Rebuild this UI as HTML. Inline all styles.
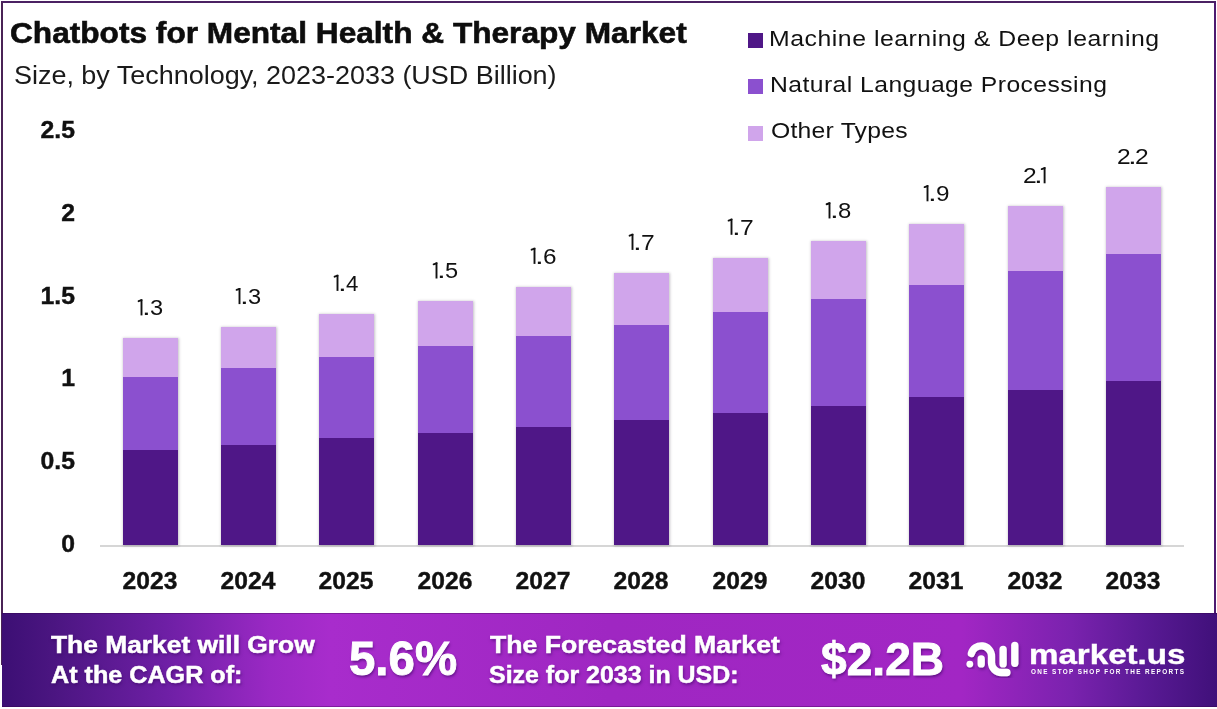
<!DOCTYPE html>
<html><head><meta charset="utf-8"><style>
html,body{margin:0;padding:0;}
body{width:1217px;height:709px;position:relative;overflow:hidden;background:#fff;font-family:'Liberation Sans', sans-serif;}
.t{position:absolute;line-height:0;white-space:nowrap;transform-origin:0 0;}
.c{position:absolute;line-height:0;white-space:nowrap;width:80px;text-align:center;transform-origin:50% 0;}
.r{position:absolute;line-height:0;white-space:nowrap;text-align:right;transform-origin:100% 0;}
.bar{position:absolute;}
.sb{position:absolute;box-shadow:0.5px 0 2.5px 0.5px rgba(60,50,70,0.3);}
#frame{position:absolute;left:1px;top:1px;width:1211px;height:662px;border:2px solid #4b2163;border-bottom:none;border-left-color:#4a2356;border-right-color:#4e1a70;}
#axis{position:absolute;left:100px;top:545px;width:1084px;height:1.6px;background:#d6d6d6;}
#banner{position:absolute;left:2px;top:613px;width:1215px;height:94px;box-sizing:border-box;border-top:1px solid rgba(50,0,70,0.35);border-bottom:1px solid rgba(50,0,70,0.35);
background:linear-gradient(90deg,#3c0f74 0%,#4a1580 4%,#6e1fa5 13.5%,#9a29c4 22%,#a82ccc 27%,#9f27c2 50%,#a226c4 79%,#7a22ae 88%,#5a1a95 94%,#40107a 100%);}
</style></head><body>
<div id="frame"></div>
<div id="axis"></div>
<div class="bar" style="left:748px;top:33px;width:15px;height:15px;background:#4f1787"></div>
<div class="bar" style="left:748px;top:79px;width:15px;height:15px;background:#8b50cf"></div>
<div class="bar" style="left:748px;top:126px;width:15px;height:15px;background:#d0a5eb"></div>
<div class="sb" style="left:123px;top:338px;width:55px;height:207px;"></div><div class="bar" style="left:123px;top:338px;width:55px;height:39px;background:#d0a5eb"></div><div class="bar" style="left:123px;top:377px;width:55px;height:73px;background:#8b50cf"></div><div class="bar" style="left:123px;top:450px;width:55px;height:95px;background:#4f1787"></div><div class="sb" style="left:221px;top:327px;width:55px;height:218px;"></div><div class="bar" style="left:221px;top:327px;width:55px;height:41px;background:#d0a5eb"></div><div class="bar" style="left:221px;top:368px;width:55px;height:77px;background:#8b50cf"></div><div class="bar" style="left:221px;top:445px;width:55px;height:100px;background:#4f1787"></div><div class="sb" style="left:319px;top:314px;width:55px;height:231px;"></div><div class="bar" style="left:319px;top:314px;width:55px;height:43px;background:#d0a5eb"></div><div class="bar" style="left:319px;top:357px;width:55px;height:81px;background:#8b50cf"></div><div class="bar" style="left:319px;top:438px;width:55px;height:107px;background:#4f1787"></div><div class="sb" style="left:418px;top:301px;width:55px;height:244px;"></div><div class="bar" style="left:418px;top:301px;width:55px;height:45px;background:#d0a5eb"></div><div class="bar" style="left:418px;top:346px;width:55px;height:87px;background:#8b50cf"></div><div class="bar" style="left:418px;top:433px;width:55px;height:112px;background:#4f1787"></div><div class="sb" style="left:516px;top:287px;width:55px;height:258px;"></div><div class="bar" style="left:516px;top:287px;width:55px;height:49px;background:#d0a5eb"></div><div class="bar" style="left:516px;top:336px;width:55px;height:91px;background:#8b50cf"></div><div class="bar" style="left:516px;top:427px;width:55px;height:118px;background:#4f1787"></div><div class="sb" style="left:614px;top:273px;width:55px;height:272px;"></div><div class="bar" style="left:614px;top:273px;width:55px;height:52px;background:#d0a5eb"></div><div class="bar" style="left:614px;top:325px;width:55px;height:95px;background:#8b50cf"></div><div class="bar" style="left:614px;top:420px;width:55px;height:125px;background:#4f1787"></div><div class="sb" style="left:713px;top:258px;width:55px;height:287px;"></div><div class="bar" style="left:713px;top:258px;width:55px;height:54px;background:#d0a5eb"></div><div class="bar" style="left:713px;top:312px;width:55px;height:101px;background:#8b50cf"></div><div class="bar" style="left:713px;top:413px;width:55px;height:132px;background:#4f1787"></div><div class="sb" style="left:811px;top:241px;width:55px;height:304px;"></div><div class="bar" style="left:811px;top:241px;width:55px;height:58px;background:#d0a5eb"></div><div class="bar" style="left:811px;top:299px;width:55px;height:107px;background:#8b50cf"></div><div class="bar" style="left:811px;top:406px;width:55px;height:139px;background:#4f1787"></div><div class="sb" style="left:909px;top:224px;width:55px;height:321px;"></div><div class="bar" style="left:909px;top:224px;width:55px;height:61px;background:#d0a5eb"></div><div class="bar" style="left:909px;top:285px;width:55px;height:112px;background:#8b50cf"></div><div class="bar" style="left:909px;top:397px;width:55px;height:148px;background:#4f1787"></div><div class="sb" style="left:1008px;top:206px;width:55px;height:339px;"></div><div class="bar" style="left:1008px;top:206px;width:55px;height:65px;background:#d0a5eb"></div><div class="bar" style="left:1008px;top:271px;width:55px;height:119px;background:#8b50cf"></div><div class="bar" style="left:1008px;top:390px;width:55px;height:155px;background:#4f1787"></div><div class="sb" style="left:1106px;top:187px;width:55px;height:358px;"></div><div class="bar" style="left:1106px;top:187px;width:55px;height:67px;background:#d0a5eb"></div><div class="bar" style="left:1106px;top:254px;width:55px;height:127px;background:#8b50cf"></div><div class="bar" style="left:1106px;top:381px;width:55px;height:164px;background:#4f1787"></div>
<div id="banner"></div>
<svg style="position:absolute;left:0;top:0;overflow:visible" width="1" height="1"><path d="M141.50 299.30 L141.50 315.40" stroke="#111" stroke-width="1.9" fill="none"/><path d="M138.60 301.19 L141.50 300.19" stroke="#111" stroke-width="1.9" fill="none" stroke-linecap="round"/></svg><div class="t" style="left:142.27px;top:308.00px;font-size:22.5px;color:#111;transform:scaleX(1.400)">.</div><div class="t" style="left:150.05px;top:308.00px;font-size:22.5px;color:#111;transform:scaleX(1.050)">3</div><div class="c" style="left:109.7px;top:581px;font-size:23.4px;font-weight:700;color:#111;transform:scaleX(1.052);-webkit-text-stroke:0.4px #111">2023</div><svg style="position:absolute;left:0;top:0;overflow:visible" width="1" height="1"><path d="M239.50 288.00 L239.50 304.10" stroke="#111" stroke-width="1.9" fill="none"/><path d="M236.60 289.89 L239.50 288.89" stroke="#111" stroke-width="1.9" fill="none" stroke-linecap="round"/></svg><div class="t" style="left:240.27px;top:297.00px;font-size:22.5px;color:#111;transform:scaleX(1.400)">.</div><div class="t" style="left:248.05px;top:297.00px;font-size:22.5px;color:#111;transform:scaleX(1.050)">3</div><div class="c" style="left:207.7px;top:581px;font-size:23.4px;font-weight:700;color:#111;transform:scaleX(1.052);-webkit-text-stroke:0.4px #111">2024</div><svg style="position:absolute;left:0;top:0;overflow:visible" width="1" height="1"><path d="M337.50 274.80 L337.50 290.90" stroke="#111" stroke-width="1.9" fill="none"/><path d="M334.60 276.69 L337.50 275.69" stroke="#111" stroke-width="1.9" fill="none" stroke-linecap="round"/></svg><div class="t" style="left:338.27px;top:284.00px;font-size:22.5px;color:#111;transform:scaleX(1.400)">.</div><div class="t" style="left:346.44px;top:284.00px;font-size:22.5px;color:#111;transform:scaleX(0.988)">4</div><div class="c" style="left:305.7px;top:581px;font-size:23.4px;font-weight:700;color:#111;transform:scaleX(1.052);-webkit-text-stroke:0.4px #111">2025</div><svg style="position:absolute;left:0;top:0;overflow:visible" width="1" height="1"><path d="M436.50 262.40 L436.50 278.50" stroke="#111" stroke-width="1.9" fill="none"/><path d="M433.60 264.30 L436.50 263.30" stroke="#111" stroke-width="1.9" fill="none" stroke-linecap="round"/></svg><div class="t" style="left:437.27px;top:271.00px;font-size:22.5px;color:#111;transform:scaleX(1.400)">.</div><div class="t" style="left:445.00px;top:271.00px;font-size:22.5px;color:#111;transform:scaleX(1.050)">5</div><div class="c" style="left:404.7px;top:581px;font-size:23.4px;font-weight:700;color:#111;transform:scaleX(1.052);-webkit-text-stroke:0.4px #111">2026</div><svg style="position:absolute;left:0;top:0;overflow:visible" width="1" height="1"><path d="M534.50 247.79 L534.50 263.90" stroke="#111" stroke-width="1.9" fill="none"/><path d="M531.60 249.69 L534.50 248.69" stroke="#111" stroke-width="1.9" fill="none" stroke-linecap="round"/></svg><div class="t" style="left:535.27px;top:257.00px;font-size:22.5px;color:#111;transform:scaleX(1.400)">.</div><div class="t" style="left:542.72px;top:257.00px;font-size:22.5px;color:#111;transform:scaleX(1.079)">6</div><div class="c" style="left:502.7px;top:581px;font-size:23.4px;font-weight:700;color:#111;transform:scaleX(1.052);-webkit-text-stroke:0.4px #111">2027</div><svg style="position:absolute;left:0;top:0;overflow:visible" width="1" height="1"><path d="M632.50 233.79 L632.50 249.90" stroke="#111" stroke-width="1.9" fill="none"/><path d="M629.60 235.69 L632.50 234.69" stroke="#111" stroke-width="1.9" fill="none" stroke-linecap="round"/></svg><div class="t" style="left:633.27px;top:243.00px;font-size:22.5px;color:#111;transform:scaleX(1.400)">.</div><div class="t" style="left:640.69px;top:243.00px;font-size:22.5px;color:#111;transform:scaleX(1.095)">7</div><div class="c" style="left:600.7px;top:581px;font-size:23.4px;font-weight:700;color:#111;transform:scaleX(1.052);-webkit-text-stroke:0.4px #111">2028</div><svg style="position:absolute;left:0;top:0;overflow:visible" width="1" height="1"><path d="M731.50 218.70 L731.50 234.80" stroke="#111" stroke-width="1.9" fill="none"/><path d="M728.60 220.60 L731.50 219.60" stroke="#111" stroke-width="1.9" fill="none" stroke-linecap="round"/></svg><div class="t" style="left:732.27px;top:228.00px;font-size:22.5px;color:#111;transform:scaleX(1.400)">.</div><div class="t" style="left:739.69px;top:228.00px;font-size:22.5px;color:#111;transform:scaleX(1.095)">7</div><div class="c" style="left:699.7px;top:581px;font-size:23.4px;font-weight:700;color:#111;transform:scaleX(1.052);-webkit-text-stroke:0.4px #111">2029</div><svg style="position:absolute;left:0;top:0;overflow:visible" width="1" height="1"><path d="M829.50 202.34 L829.50 218.45" stroke="#111" stroke-width="1.9" fill="none"/><path d="M826.60 204.25 L829.50 203.25" stroke="#111" stroke-width="1.9" fill="none" stroke-linecap="round"/></svg><div class="t" style="left:830.27px;top:211.00px;font-size:22.5px;color:#111;transform:scaleX(1.400)">.</div><div class="t" style="left:837.91px;top:211.00px;font-size:22.5px;color:#111;transform:scaleX(1.061)">8</div><div class="c" style="left:797.7px;top:581px;font-size:23.4px;font-weight:700;color:#111;transform:scaleX(1.052);-webkit-text-stroke:0.4px #111">2030</div><svg style="position:absolute;left:0;top:0;overflow:visible" width="1" height="1"><path d="M927.50 185.19 L927.50 201.30" stroke="#111" stroke-width="1.9" fill="none"/><path d="M924.60 187.09 L927.50 186.09" stroke="#111" stroke-width="1.9" fill="none" stroke-linecap="round"/></svg><div class="t" style="left:928.27px;top:194.00px;font-size:22.5px;color:#111;transform:scaleX(1.400)">.</div><div class="t" style="left:935.81px;top:194.00px;font-size:22.5px;color:#111;transform:scaleX(1.078)">9</div><div class="c" style="left:895.7px;top:581px;font-size:23.4px;font-weight:700;color:#111;transform:scaleX(1.052);-webkit-text-stroke:0.4px #111">2031</div><div class="t" style="left:1023.01px;top:176.00px;font-size:22.5px;color:#111;transform:scaleX(1.093)">2</div><div class="t" style="left:1033.87px;top:176.00px;font-size:22.5px;color:#111;transform:scaleX(1.400)">.</div><svg style="position:absolute;left:0;top:0;overflow:visible" width="1" height="1"><path d="M1044.60 167.19 L1044.60 183.30" stroke="#111" stroke-width="1.9" fill="none"/><path d="M1041.70 169.09 L1044.60 168.09" stroke="#111" stroke-width="1.9" fill="none" stroke-linecap="round"/></svg><div class="c" style="left:994.7px;top:581px;font-size:23.4px;font-weight:700;color:#111;transform:scaleX(1.052);-webkit-text-stroke:0.4px #111">2032</div><div class="t" style="left:1116.91px;top:157.00px;font-size:22.5px;color:#111;transform:scaleX(1.093)">2</div><div class="t" style="left:1127.77px;top:157.00px;font-size:22.5px;color:#111;transform:scaleX(1.400)">.</div><div class="t" style="left:1135.21px;top:157.00px;font-size:22.5px;color:#111;transform:scaleX(1.093)">2</div><div class="c" style="left:1092.7px;top:581px;font-size:23.4px;font-weight:700;color:#111;transform:scaleX(1.052);-webkit-text-stroke:0.4px #111">2033</div><div class="r" style="left:0px;width:75px;top:130px;font-size:23px;font-weight:700;color:#111;transform:scaleX(1.076);-webkit-text-stroke:0.4px #111">2.5</div><div class="r" style="left:0px;width:75px;top:213px;font-size:23px;font-weight:700;color:#111;transform:scaleX(1.076);-webkit-text-stroke:0.4px #111">2</div><div class="r" style="left:0px;width:75px;top:296px;font-size:23px;font-weight:700;color:#111;transform:scaleX(1.076);-webkit-text-stroke:0.4px #111">1.5</div><div class="r" style="left:0px;width:75px;top:378px;font-size:23px;font-weight:700;color:#111;transform:scaleX(1.076);-webkit-text-stroke:0.4px #111">1</div><div class="r" style="left:0px;width:75px;top:461px;font-size:23px;font-weight:700;color:#111;transform:scaleX(1.076);-webkit-text-stroke:0.4px #111">0.5</div><div class="r" style="left:0px;width:75px;top:544px;font-size:23px;font-weight:700;color:#111;transform:scaleX(1.076);-webkit-text-stroke:0.4px #111">0</div>
<div class="t" style="left:10.30px;top:33.00px;font-size:28.8px;font-weight:700;color:#0d0d0d;transform:scaleX(1.0985);letter-spacing:0px;-webkit-text-stroke:0.6px #0d0d0d;">Chatbots for Mental Health &amp; Therapy Market</div><div class="t" style="left:14.04px;top:75.00px;font-size:25px;font-weight:400;color:#1a1a1a;transform:scaleX(1.0788);letter-spacing:-0.013px;">Size, by Technology, 2023-2033 (USD Billion)</div><div class="t" style="left:769.49px;top:39.00px;font-size:22.5px;font-weight:400;color:#111;transform:scaleX(1.1026);letter-spacing:0.478px;">Machine learning &amp; Deep learning</div><div class="t" style="left:769.50px;top:85.00px;font-size:22.5px;font-weight:400;color:#111;transform:scaleX(1.0980);letter-spacing:0.402px;">Natural Language Processing</div><div class="t" style="left:770.60px;top:131.00px;font-size:22.5px;font-weight:400;color:#111;transform:scaleX(1.1000);letter-spacing:0.2px;">Other Types</div><div class="t" style="left:51.10px;top:645.00px;font-size:23.6px;font-weight:700;color:#fff;transform:scaleX(1.1174);letter-spacing:0px;-webkit-text-stroke:0.5px #fff;text-shadow:1px 2px 3px rgba(50,0,90,0.55);">The Market will Grow</div><div class="t" style="left:51.10px;top:675.00px;font-size:23.6px;font-weight:700;color:#fff;transform:scaleX(1.0663);letter-spacing:0px;-webkit-text-stroke:0.5px #fff;text-shadow:1px 2px 3px rgba(50,0,90,0.55);">At the CAGR of:</div><div class="t" style="left:349.31px;top:659.00px;font-size:48px;font-weight:700;color:#fff;transform:scaleX(0.9880);letter-spacing:0px;-webkit-text-stroke:0.9px #fff;text-shadow:1px 2px 3px rgba(50,0,90,0.6);">5.6%</div><div class="t" style="left:490.00px;top:645.00px;font-size:23.6px;font-weight:700;color:#fff;transform:scaleX(1.1276);letter-spacing:0px;-webkit-text-stroke:0.5px #fff;text-shadow:1px 2px 3px rgba(50,0,90,0.55);">The Forecasted Market</div><div class="t" style="left:488.94px;top:675.00px;font-size:23.6px;font-weight:700;color:#fff;transform:scaleX(1.0575);letter-spacing:0px;-webkit-text-stroke:0.5px #fff;text-shadow:1px 2px 3px rgba(50,0,90,0.55);">Size for 2033 in USD:</div><div class="t" style="left:820.50px;top:659.00px;font-size:47px;font-weight:700;color:#fff;transform:scaleX(0.9815);letter-spacing:0px;-webkit-text-stroke:0.9px #fff;text-shadow:1px 2px 3px rgba(50,0,90,0.6);">$2.2B</div><div class="t" style="left:1028.89px;top:655.00px;font-size:27.5px;font-weight:700;color:#fff;transform:scaleX(1.2039);letter-spacing:0px;-webkit-text-stroke:0.4px #fff;">market.us</div><div class="t" style="left:1031.30px;top:672.00px;font-size:7px;font-weight:700;color:#fff;transform:scaleX(0.9101);letter-spacing:1.5px;">ONE STOP SHOP FOR THE REPORTS</div>
<svg style="position:absolute;left:0;top:0" width="1217" height="709" viewBox="0 0 1217 709">
<g fill="none" stroke="#fff" stroke-linecap="round" stroke-width="7.3" filter="url(#lsh)">
<path d="M971.35 653.45 A10.25 10.25 0 0 1 991.5 656.1 L991.5 662.5 A10 10 0 0 0 1001.5 672.5 L1006.9 672.5"/>
<line x1="981.2" y1="658.9" x2="981.2" y2="663.9"/>
<line x1="1003.1" y1="649.5" x2="1003.1" y2="663.9"/>
<line x1="1014.8" y1="645.4" x2="1014.8" y2="663.3"/>
</g>
<circle cx="969.8" cy="664.1" r="3.4" fill="#fff" filter="url(#lsh)"/>
<defs><filter id="lsh" x="-20%" y="-20%" width="140%" height="140%"><feDropShadow dx="1" dy="2" stdDeviation="1.5" flood-color="#32005a" flood-opacity="0.5"/></filter></defs>
</svg>
</body></html>
